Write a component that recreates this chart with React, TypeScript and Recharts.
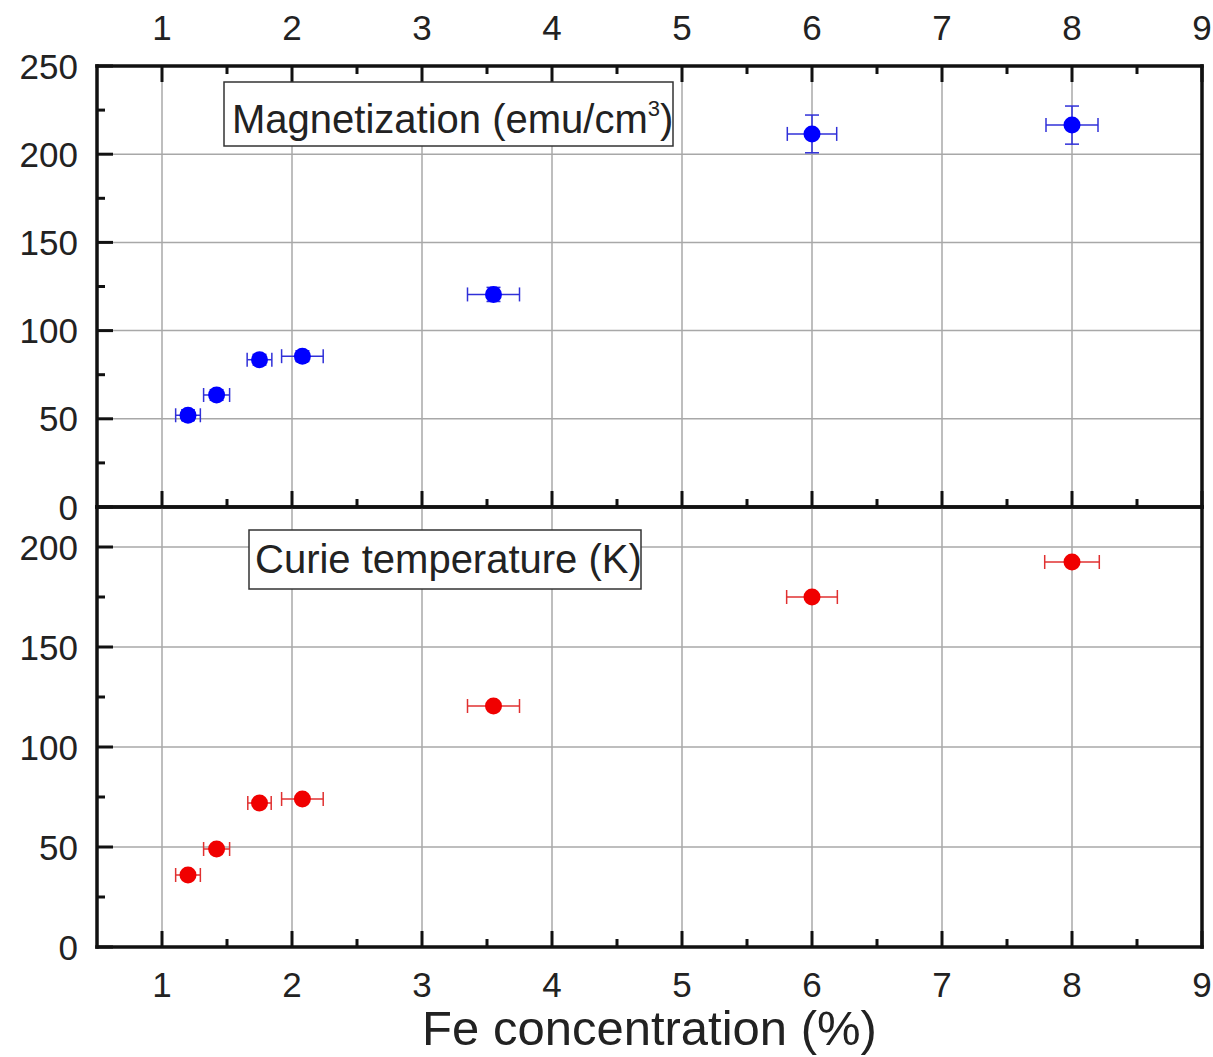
import { ErrorBar, ReferenceLine, Scatter, ScatterChart, XAxis, YAxis } from "recharts";

// Fe concentration (%) and its error, shared by both panels
const feConc = [1.2, 1.42, 1.75, 2.08, 3.55, 6.0, 8.0];
const feErrTop = [0.095, 0.1, 0.095, 0.16, 0.2, 0.19, 0.2];
const feErrBottom = [0.095, 0.1, 0.09, 0.16, 0.2, 0.195, 0.21];

// Magnetization (emu/cm3)
const magnetization = [52, 63.5, 83.5, 85.5, 120.5, 211.5, 216.5];
const magnetizationErr = [3, 3, 3, 3, 4, 10.7, 10.8];

// Curie temperature (K)
const curieTemp = [36, 49, 72, 74, 120.5, 175, 192.5];

const xTicks = [1, 1.5, 2, 2.5, 3, 3.5, 4, 4.5, 5, 5.5, 6, 6.5, 7, 7.5, 8, 8.5, 9];
const xMajor = [1, 2, 3, 4, 5, 6, 7, 8, 9];
const xGrid = [1, 2, 3, 4, 5, 6, 7, 8];

const magTicks = [0, 25, 50, 75, 100, 125, 150, 175, 200, 225, 250];
const magMajor = [0, 50, 100, 150, 200, 250];
const curieTicks = [0, 25, 50, 75, 100, 125, 150, 175, 200];
const curieMajor = [0, 50, 100, 150, 200];
const yGrid = [50, 100, 150, 200];

const FONT = "'Liberation Sans', Arial, sans-serif";
const AXIS = { stroke: "#111", strokeWidth: 3.5, strokeLinecap: "square" as const };
const GRID = "#a8a8a8";

const magData = feConc.map((x, i) => ({ x, y: magnetization[i], ex: feErrTop[i], ey: magnetizationErr[i] }));
const curieData = feConc.map((x, i) => ({ x, y: curieTemp[i], ex: feErrBottom[i] }));

type Side = "left" | "right" | "top" | "bottom";

function axisTick(side: Side, majors: number[], labels: boolean) {
  return function TickMark(props: any) {
    const { x, y, payload } = props;
    const v = payload.value;
    const len = majors.includes(v) ? 16 : 8;
    const line = { stroke: "#111", strokeWidth: 3 };
    const text = { fontSize: 35, fontFamily: FONT, fill: "#222" };
    if (side === "left") {
      return (
        <g>
          <line x1={x} y1={y} x2={x + len} y2={y} {...line} />
          {labels && majors.includes(v) && (
            <text x={x - 19} y={y} textAnchor="end" dominantBaseline="central" {...text}>{v}</text>
          )}
        </g>
      );
    }
    if (side === "right") {
      return <line x1={x} y1={y} x2={x - len} y2={y} {...line} />;
    }
    if (side === "top") {
      return (
        <g>
          <line x1={x} y1={y} x2={x} y2={y + len} {...line} />
          {labels && majors.includes(v) && (
            <text x={x} y={y - 39} textAnchor="middle" dominantBaseline="central" {...text}>{v}</text>
          )}
        </g>
      );
    }
    return (
      <g>
        <line x1={x} y1={y} x2={x} y2={y - len} {...line} />
        {labels && majors.includes(v) && (
          <text x={x} y={y + 37} textAnchor="middle" dominantBaseline="central" {...text}>{v}</text>
        )}
      </g>
    );
  };
}

const dot = (color: string) => (p: any) => <circle cx={p.cx} cy={p.cy} r={8.5} fill={color} />;
const noMark = () => <g />;

export default function App() {
  return (
    <div style={{ position: "absolute", left: 0, top: 0, width: 1213, height: 1057, background: "#fff" }}>
      {/* top panel: magnetization */}
      <div style={{ position: "absolute", left: 0, top: 0 }}>
        <ScatterChart width={1213} height={540} margin={{ top: 0, right: 0, bottom: 0, left: 0 }}>
          <XAxis xAxisId="top" orientation="top" type="number" dataKey="x" domain={[0.5, 9]} ticks={xTicks} interval={0}
            height={66} axisLine={AXIS} tickLine={false} tickSize={0} tickMargin={0} tick={axisTick("top", xMajor, true)} />
          <XAxis type="number" dataKey="x" domain={[0.5, 9]} ticks={xTicks} interval={0}
            height={33} axisLine={AXIS} tickLine={false} tickSize={0} tickMargin={0} tick={axisTick("bottom", xMajor, false)} />
          <YAxis type="number" dataKey="y" domain={[0, 250]} ticks={magTicks} interval={0}
            width={97} axisLine={AXIS} tickLine={false} tickSize={0} tickMargin={0} tick={axisTick("left", magMajor, true)} />
          <YAxis yAxisId="r" orientation="right" type="number" domain={[0, 250]} ticks={magTicks} interval={0}
            width={11} axisLine={AXIS} tickLine={false} tickSize={0} tickMargin={0} tick={axisTick("right", magMajor, false)} />
          {xGrid.map((v) => (
            <ReferenceLine key={"x" + v} x={v} stroke={GRID} strokeWidth={1.5} />
          ))}
          {yGrid.map((v) => (
            <ReferenceLine key={"y" + v} y={v} stroke={GRID} strokeWidth={1.5} />
          ))}
          {/* binds the top axis to the data so that its ticks are drawn */}
          <Scatter xAxisId="top" data={magData} shape={noMark} isAnimationActive={false} />
          <Scatter data={magData} fill="#0000ff" shape={dot("#0000ff")} isAnimationActive={false}>
            <ErrorBar dataKey="ex" direction="x" width={7} stroke="#3030d8" strokeWidth={1.5} isAnimationActive={false} />
            <ErrorBar dataKey="ey" direction="y" width={7} stroke="#3030d8" strokeWidth={1.5} isAnimationActive={false} />
          </Scatter>
        </ScatterChart>
      </div>

      {/* bottom panel: Curie temperature */}
      <div style={{ position: "absolute", left: 0, top: 480 }}>
        <ScatterChart width={1213} height={577} margin={{ top: 0, right: 0, bottom: 0, left: 0 }}>
          <XAxis xAxisId="top" orientation="top" type="number" domain={[0.5, 9]} ticks={xTicks}
            height={27} axisLine={AXIS} tick={false} tickLine={false} />
          <XAxis type="number" dataKey="x" domain={[0.5, 9]} ticks={xTicks} interval={0}
            height={110} axisLine={AXIS} tickLine={false} tickSize={0} tickMargin={0} tick={axisTick("bottom", xMajor, true)}
            label={{ value: "Fe concentration (%)", position: "insideBottom", offset: 12, fontSize: 49, fontFamily: FONT, fill: "#222" }} />
          <YAxis type="number" dataKey="y" domain={[0, 220]} ticks={curieTicks} interval={0}
            width={97} axisLine={AXIS} tickLine={false} tickSize={0} tickMargin={0} tick={axisTick("left", curieMajor, true)} />
          <YAxis yAxisId="r" orientation="right" type="number" domain={[0, 220]} ticks={curieTicks} interval={0}
            width={11} axisLine={AXIS} tickLine={false} tickSize={0} tickMargin={0} tick={axisTick("right", curieMajor, false)} />
          {xGrid.map((v) => (
            <ReferenceLine key={"x" + v} x={v} stroke={GRID} strokeWidth={1.5} />
          ))}
          {yGrid.map((v) => (
            <ReferenceLine key={"y" + v} y={v} stroke={GRID} strokeWidth={1.5} />
          ))}
          <Scatter data={curieData} fill="#ff0000" shape={dot("#f00000")} isAnimationActive={false}>
            <ErrorBar dataKey="ex" direction="x" width={7} stroke="#e03030" strokeWidth={1.5} isAnimationActive={false} />
          </Scatter>
        </ScatterChart>
      </div>

      {/* panel captions */}
      <svg width={1213} height={1057} style={{ position: "absolute", left: 0, top: 0, pointerEvents: "none" }}>
        <rect x={224} y={82} width={449} height={64} fill="#fff" stroke="#333" strokeWidth={1.5} />
        <text x={232} y={133} fontSize={40} fontFamily={FONT} fill="#222">
          Magnetization (emu/cm
          <tspan fontSize={22} dy={-17}>3</tspan>
          <tspan dy={17}>)</tspan>
        </text>
        <rect x={249} y={530} width={392} height={59} fill="#fff" stroke="#333" strokeWidth={1.5} />
        <text x={255} y={573} fontSize={40} fontFamily={FONT} fill="#222">
          Curie temperature (K)
        </text>
      </svg>
    </div>
  );
}
